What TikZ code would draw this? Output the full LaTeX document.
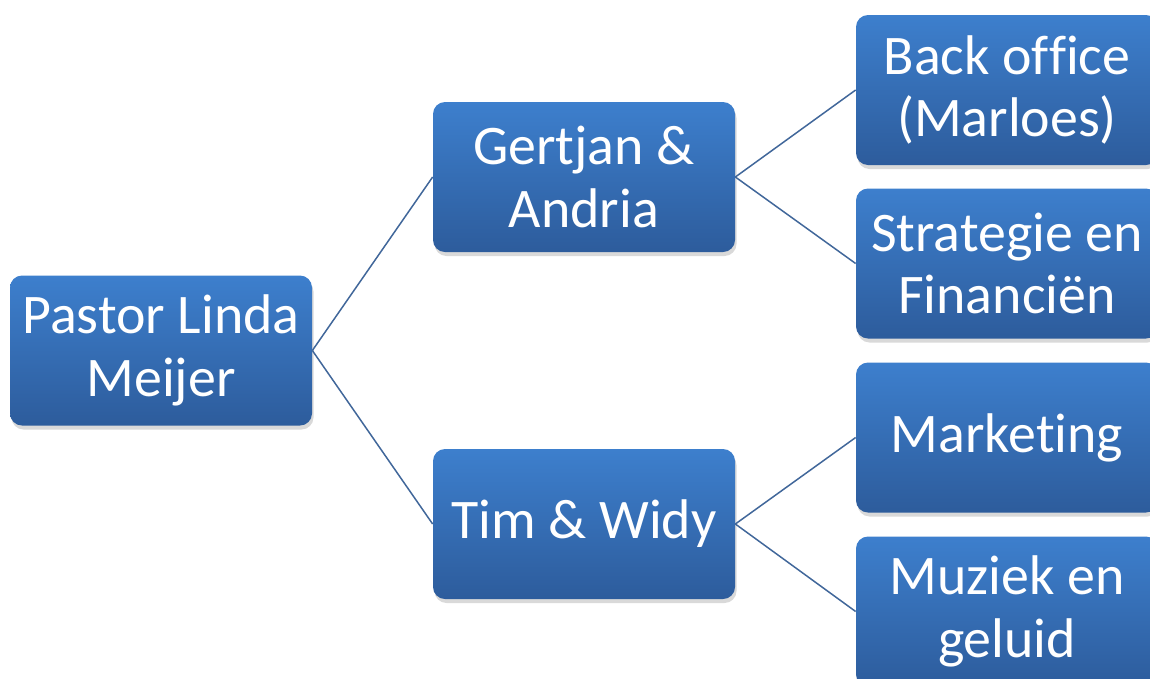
\documentclass[tikz,border=0pt]{standalone}
\usepackage{fontspec}
\setmainfont{Carlito}
\usepackage{tikz}
\usetikzlibrary{shadows}
\usepackage{xcolor}
\definecolor{BoxTop}{HTML}{3D7FCD}
\definecolor{BoxBottom}{HTML}{2D5C9C}
\definecolor{LinkBlue}{HTML}{41679A}
\newcommand{\nolig}{\kern0pt}

\tikzset{
  orgbox/.style={rounded corners=0.24cm, minimum width=6.04cm, minimum height=3cm,
    top color=BoxTop, bottom color=BoxBottom, text=white, align=center,
    inner sep=0pt, font=\fontsize{31.8}{35.8}\selectfont,
    drop shadow={opacity=0.3, shadow xshift=0.03cm, shadow yshift=-0.08cm}},
  orglink/.style={draw=LinkBlue, line width=0.03cm}
}

\begin{document}
\begin{tikzpicture}
    \useasboundingbox (0,0) rectangle (23,-13.56);

    \node[orgbox] (pastor) at (3.22,-7.01) {Pastor Linda\\Meijer};
    \node[orgbox] (gertjan) at (11.68,-3.54) {Gertjan \&\\Andria};
    \node[orgbox] (tim) at (11.68,-10.48) {Tim \& Widy};

    \node[orgbox] (backoffice) at (20.14,-1.8) {Back of\nolig f\nolig ice\\(Marloes)};
    \node[orgbox] (strategie) at (20.14,-5.27) {Strategie en\\Financiën};
    \node[orgbox] (marketing) at (20.14,-8.75) {Market\nolig ing};
    \node[orgbox] (muziek) at (20.14,-12.23) {Muziek en\\geluid};

    \draw[orglink] (pastor.east) -- (gertjan.west);
    \draw[orglink] (pastor.east) -- (tim.west);
    \draw[orglink] (gertjan.east) -- (backoffice.west);
    \draw[orglink] (gertjan.east) -- (strategie.west);
    \draw[orglink] (tim.east) -- (marketing.west);
    \draw[orglink] (tim.east) -- (muziek.west);
   \end{tikzpicture}
\end{document}
